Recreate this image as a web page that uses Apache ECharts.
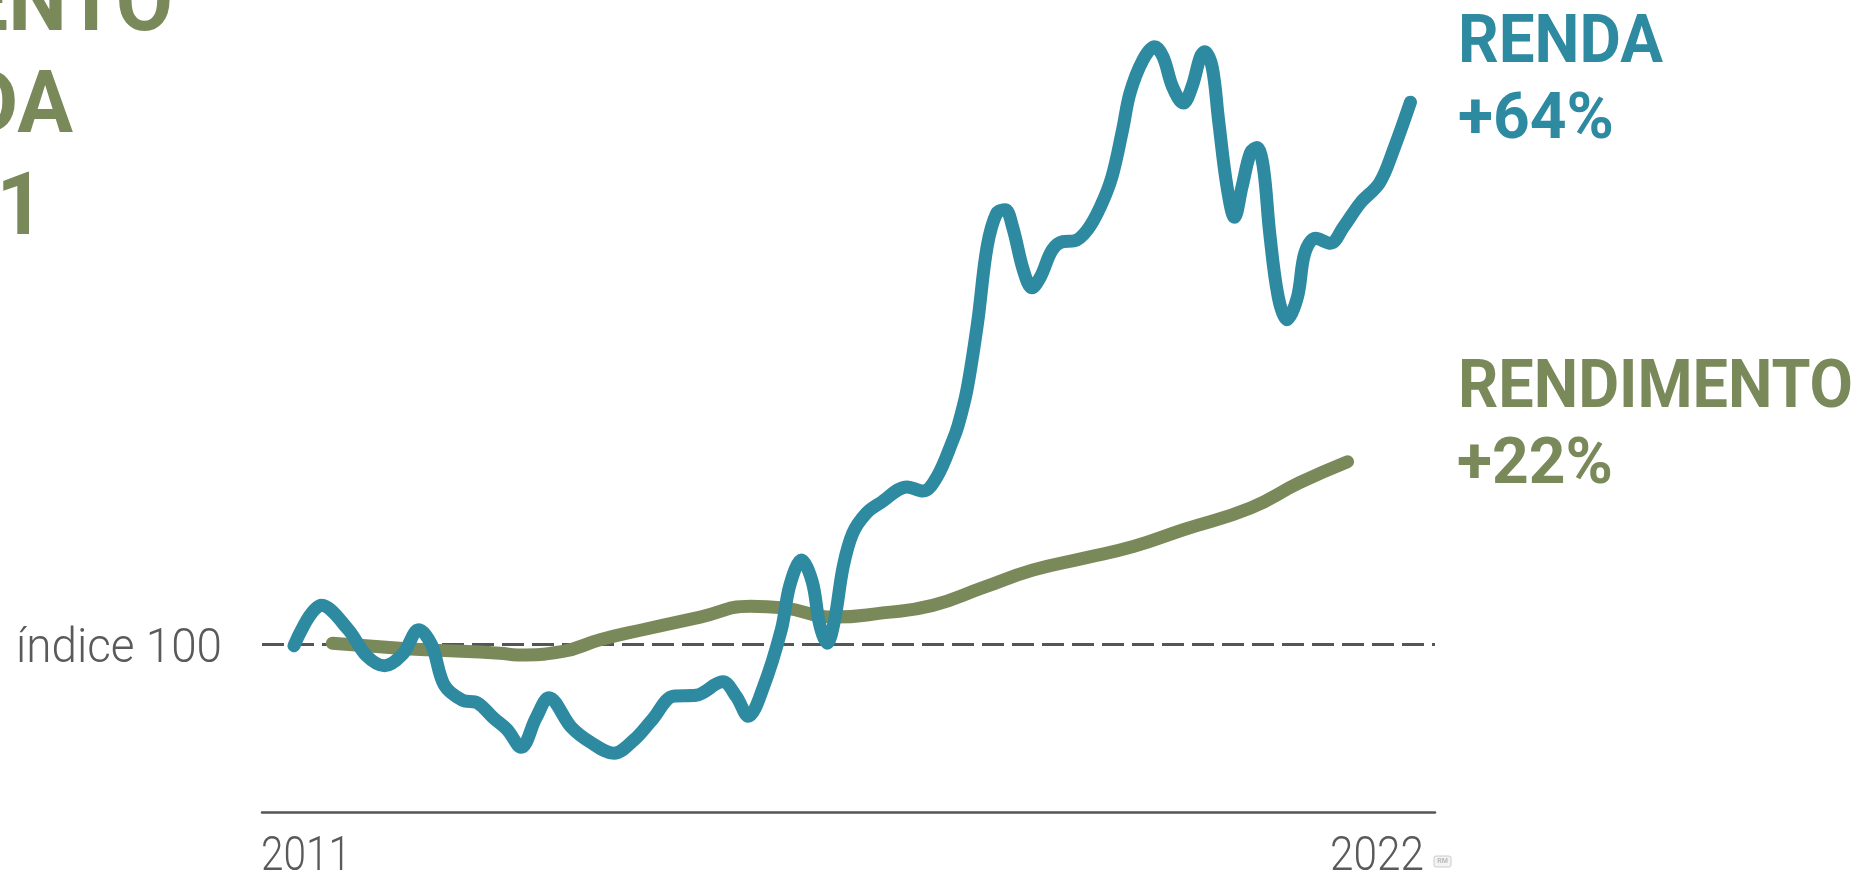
<!DOCTYPE html>
<html>
<head>
<meta charset="utf-8">
<script src="https://cdn.jsdelivr.net/npm/echarts@6/dist/echarts.min.js"></script>
<style>
html,body{margin:0;padding:0;background:#fff;}
#chart{width:1859px;height:875px;}
</style>
</head>
<body>
<div id="chart"></div>
<script>
// ---- data (index, 2011 = 100) ----
const xTickLabels = ['2011', '2022'];
const xTickValues = [2011, 2022];
const baseValue = 100;
const baseLabel = 'índice 100';
const titleLines = ['RENDIMENTO', 'DA RENDA', '2011-2021'];
const seriesNames = ['RENDA', 'RENDIMENTO'];
const seriesChanges = ['+64%', '+22%'];

const rendaTime = [2011.30, 2011.56, 2011.81, 2011.98, 2012.15, 2012.32, 2012.47, 2012.59, 2012.71, 2012.88,
  2013.02, 2013.17, 2013.30, 2013.43, 2013.57, 2013.69, 2013.90, 2014.08, 2014.30, 2014.49,
  2014.66, 2014.86, 2015.07, 2015.32, 2015.45, 2015.56, 2015.70, 2015.87, 2015.95, 2016.06,
  2016.16, 2016.23, 2016.30, 2016.37, 2016.45, 2016.54, 2016.67, 2016.80, 2017.05, 2017.20,
  2017.33, 2017.48, 2017.53, 2017.61, 2017.71, 2017.80, 2017.89, 2017.97, 2018.04, 2018.14,
  2018.22, 2018.30, 2018.41, 2018.51, 2018.62, 2018.74, 2018.86, 2018.97, 2019.07, 2019.14,
  2019.26, 2019.37, 2019.45, 2019.54, 2019.64, 2019.72, 2019.80, 2019.84, 2019.91, 2019.97,
  2020.05, 2020.12, 2020.19, 2020.27, 2020.33, 2020.39, 2020.45, 2020.53, 2020.61, 2020.71,
  2020.78, 2020.88, 2021.02, 2021.14, 2021.30, 2021.48, 2021.61, 2021.77];
const rendaIndex = [99.8, 104.6, 101.7, 98.6, 97.4, 98.8, 101.7, 99.9, 95.1, 93.3,
  93.0, 91.2, 89.8, 87.7, 91.2, 93.6, 90.1, 88.3, 87.0, 88.6,
  91.0, 93.8, 93.9, 95.5, 93.7, 91.4, 94.8, 101.7, 107.0, 110.0,
  107.4, 102.3, 100.1, 102.9, 109.2, 113.2, 115.6, 116.8, 118.7, 118.2,
  119.9, 124.3, 126.1, 130.2, 138.2, 147.3, 151.3, 151.7, 149.6, 144.5,
  142.4, 143.7, 146.9, 147.9, 148.0, 149.3, 152.0, 155.6, 161.2, 165.6,
  169.5, 171.1, 169.9, 166.3, 164.4, 166.3, 169.9, 170.5, 168.7, 162.4,
  154.4, 150.8, 154.4, 158.5, 159.1, 156.8, 148.9, 141.3, 138.6, 141.3,
  146.6, 148.3, 147.7, 149.6, 152.5, 154.9, 158.8, 164.5];

const rendimentoTime = [2011.66, 2012.29, 2012.57, 2013.23, 2013.40, 2013.81, 2014.17, 2014.57, 2015.11, 2015.58,
  2015.89, 2016.36, 2016.82, 2017.29, 2017.76, 2018.23, 2018.70, 2019.17, 2019.64, 2020.27,
  2020.73, 2021.18];
const rendimentoIndex = [100.1, 99.5, 99.3, 98.9, 98.7, 99.1, 100.5, 101.7, 103.2, 104.5,
  104.3, 103.2, 103.7, 104.6, 106.7, 108.8, 110.2, 111.6, 113.6, 116.2,
  119.2, 121.7];

// ---- styling ----
const BLUE = '#2d8aa0';
const GREEN = '#7a895a';
const GREY = '#5a5a5a';
const BOLD_FAMILY = 'Roboto, "DejaVu Sans", sans-serif';
const LIGHT_FAMILY = 'Roboto, "DejaVu Sans", sans-serif';
const MID = 0.25; // canvas 'middle' offset above baseline (fraction of font size)

const zip = (xs, ys) => xs.map((x, i) => [x, ys[i]]);

const measureCtx = document.createElement('canvas').getContext('2d');
function measure(str, font) { measureCtx.font = font; return measureCtx.measureText(str).width; }

// text whose baseline is at `base`, horizontally fitted to width `w` (or scaled by `sx`)
function fitText(str, x, base, size, weight, family, color, align, w, sx) {
  const font = weight + ' ' + size + 'px ' + family;
  const scale = sx != null ? sx : w / measure(str, font);
  return {
    type: 'text', x: x, y: base - MID * size, scaleX: scale, scaleY: 1, silent: true,
    style: { text: str, x: 0, y: 0, font: font, fill: color,
      align: align, textAlign: align, verticalAlign: 'middle', textVerticalAlign: 'middle' }
  };
}

const chart = echarts.init(document.getElementById('chart'));

chart.setOption({
  animation: false,
  backgroundColor: '#ffffff',
  grid: { left: 262, right: 424, top: 14, bottom: 63, containLabel: false },
  xAxis: {
    type: 'value', min: xTickValues[0], max: xTickValues[1], interval: xTickValues[1] - xTickValues[0],
    axisLine: { show: true, onZero: false, lineStyle: { color: '#555555', width: 2.5 } },
    axisTick: { show: false },
    splitLine: { show: false },
    axisLabel: { show: false }
  },
  yAxis: { type: 'value', min: 80, max: 175, show: false, splitLine: { show: false } },
  series: [
    {
      name: seriesNames[1], type: 'line', data: zip(rendimentoTime, rendimentoIndex),
      smooth: 0.5, symbol: 'none', clip: false, z: 3,
      lineStyle: { color: GREEN, width: 13, cap: 'round', join: 'round' },
      markLine: {
        silent: true, symbol: 'none', z: 1, label: { show: false },
        lineStyle: { color: '#555555', width: 3, type: [22, 8] },
        data: [{ yAxis: baseValue }]
      }
    },
    {
      name: seriesNames[0], type: 'line', data: zip(rendaTime, rendaIndex),
      smooth: 0.35, symbol: 'none', clip: false, z: 4,
      lineStyle: { color: BLUE, width: 13, cap: 'round', join: 'round' }
    }
  ]
});

// labels positioned from the axes
const xLeft = chart.convertToPixel({ xAxisIndex: 0 }, xTickValues[0]);
const xRight = chart.convertToPixel({ xAxisIndex: 0 }, xTickValues[1]);
const yBase = chart.convertToPixel({ yAxisIndex: 0 }, baseValue);
const axisY = chart.convertToPixel({ yAxisIndex: 0 }, 80);

const labelSize = 66, titleSize = 87;
const sLabel = 395 / measure(seriesNames[1], 'bold ' + labelSize + 'px ' + BOLD_FAMILY);

chart.setOption({
  graphic: [
    fitText(titleLines[0], 173, 30, titleSize, 'bold', BOLD_FAMILY, GREEN, 'right', null, sLabel),
    fitText(titleLines[1], 73, 132, titleSize, 'bold', BOLD_FAMILY, GREEN, 'right', null, sLabel),
    fitText(titleLines[2], 44, 234, titleSize, 'bold', BOLD_FAMILY, GREEN, 'right', null, sLabel),
    fitText(seriesNames[0], 1458, 62, labelSize, 'bold', BOLD_FAMILY, BLUE, 'left', 205),
    fitText(seriesChanges[0], 1458, 138, 64, 'bold', BOLD_FAMILY, BLUE, 'left', 156),
    fitText(seriesNames[1], 1458, 407, labelSize, 'bold', BOLD_FAMILY, GREEN, 'left', 395),
    fitText(seriesChanges[1], 1457, 483, 64, 'bold', BOLD_FAMILY, GREEN, 'left', 156),
    fitText(baseLabel, xLeft - 40, yBase + 18, 48, '300', LIGHT_FAMILY, GREY, 'right', 206),
    fitText(xTickLabels[0], xLeft - 1, axisY + 58, 48, '300', LIGHT_FAMILY, GREY, 'left', 90),
    fitText(xTickLabels[1], xRight - 11, axisY + 58, 48, '300', LIGHT_FAMILY, GREY, 'right', 94),
    { type: 'rect', silent: true, shape: { x: xRight - 1, y: 856, width: 17, height: 11, r: 2 },
      style: { fill: '#f3f3f3', stroke: '#cccccc', lineWidth: 1 } },
    { type: 'text', silent: true, x: xRight + 7.5, y: 861.5,
      style: { text: 'RM', x: 0, y: 0, font: 'bold 7px ' + LIGHT_FAMILY, fill: '#bbbbbb',
        align: 'center', textAlign: 'center', verticalAlign: 'middle', textVerticalAlign: 'middle' } }
  ]
});
</script>
</body>
</html>
